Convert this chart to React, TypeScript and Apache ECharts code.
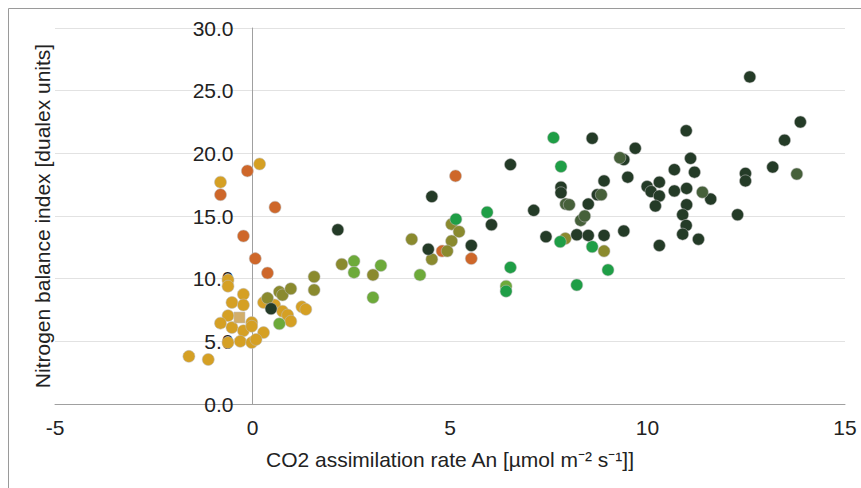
import React, { useEffect, useRef } from "react";
import * as echarts from "echarts";

const xTicks = [-5, 0, 5, 10, 15];
const yTicks = [0, 5, 10, 15, 20, 25, 30];

const orangePts: number[][] = [
  [-0.13, 18.6], [-0.81, 16.7], [0.57, 15.7], [-0.23, 13.4], [0.07, 11.6], [0.38, 10.45],
  [5.14, 18.2], [5.54, 11.6], [4.8, 12.2],
];

const yellowPts: number[][] = [
  [0.18, 19.15], [-0.81, 17.7], [-0.62, 9.9], [-0.62, 9.4], [-0.23, 8.75], [-0.52, 8.1],
  [-0.23, 7.9], [0.28, 8.1], [0.56, 7.9], [-0.62, 7.05], [-0.81, 6.45], [-0.52, 6.1],
  [-0.23, 5.85], [-0.02, 6.5], [-0.02, 6.2], [0.28, 5.7], [-0.62, 4.9], [-0.31, 5.0],
  [-0.02, 4.9], [0.09, 5.15], [-1.61, 3.8], [-1.12, 3.55], [0.76, 7.4], [0.89, 7.1],
  [0.97, 6.6], [1.25, 7.75], [1.35, 7.55],
];

const squarePts: number[][] = [[-0.33, 6.9]];

const olivePts: number[][] = [
  [0.38, 8.45], [0.68, 8.95], [0.76, 8.7], [0.97, 9.2], [1.56, 10.15], [1.56, 9.1],
  [2.26, 11.15], [3.05, 10.3], [4.03, 13.15], [4.54, 11.55], [5.04, 14.35], [5.23, 13.75],
  [5.04, 13.0], [4.93, 12.2], [7.92, 13.2], [8.9, 12.2],
];

const lightGreenPts: number[][] = [
  [0.68, 6.4], [2.57, 11.4], [2.57, 10.5], [3.25, 11.05], [3.05, 8.5], [4.24, 10.3], [6.42, 9.4],
];

const brightGreenPts: number[][] = [
  [5.15, 14.75], [5.94, 15.3], [6.53, 10.9], [6.42, 9.0], [7.62, 21.25], [7.81, 18.95],
  [7.79, 12.95], [8.6, 12.55], [8.21, 9.5], [9.0, 10.7],
];

const darkGreenPts: number[][] = [
  [0.47, 7.6], [2.16, 13.9], [4.45, 12.35], [4.54, 16.55], [5.54, 12.65], [6.05, 14.3],
  [6.53, 19.1], [7.12, 15.45], [7.43, 13.35], [8.6, 21.2], [7.81, 17.3], [7.81, 16.85],
  [8.5, 15.95], [8.21, 13.5], [8.5, 13.45], [8.9, 17.8], [8.9, 13.45], [8.73, 16.7],
  [9.4, 13.8], [9.5, 18.1], [9.4, 19.5], [9.69, 20.4], [9.99, 17.35], [10.09, 16.95],
  [10.3, 17.7], [10.3, 16.6], [10.2, 15.8], [10.3, 12.65], [10.68, 18.7], [10.68, 17.0],
  [12.59, 26.1], [13.87, 22.5], [13.47, 21.05], [13.17, 18.9], [12.48, 18.4], [12.48, 17.8],
  [12.28, 15.1], [10.98, 21.8], [11.09, 19.6], [11.19, 18.5], [10.99, 17.2], [11.6, 16.35],
  [10.99, 15.9], [10.89, 15.1], [10.98, 14.25], [10.89, 13.55], [11.29, 13.15],
];

const midGreenPts: number[][] = [
  [7.93, 15.95], [8.02, 15.9], [8.31, 14.65], [8.41, 15.0], [8.83, 16.7], [9.3, 19.65],
  [11.39, 16.9], [13.78, 18.35],
];

const FONT = "'Liberation Sans', Arial, sans-serif";
const GRID_LEFT = 55;
const GRID_RIGHT = 16;
const CHART_W = 861;

function scatter(name: string, data: number[][], color: string, symbol = "circle") {
  return {
    name,
    type: "scatter",
    data,
    symbol,
    symbolSize: symbol === "rect" ? 11 : 12,
    itemStyle: {
      color,
      opacity: 1,
      borderColor: "rgba(190,190,190,0.55)",
      borderWidth: 1,
    },
    emphasis: { disabled: true },
  };
}

export default function App() {
  const ref = useRef<HTMLDivElement>(null);
  useEffect(() => {
    if (!ref.current) return;
    const chart = echarts.init(ref.current, null, { renderer: "svg" });
    const plotW = CHART_W - GRID_LEFT - GRID_RIGHT;
    const xMin = xTicks[0];
    const xMax = xTicks[xTicks.length - 1];
    // shift the y axis (line, labels and name) to sit at x = 0
    const yAxisOffset = -((0 - xMin) / (xMax - xMin)) * plotW;
    chart.setOption({
      animation: false,
      backgroundColor: "#ffffff",
      grid: {
        left: GRID_LEFT,
        right: GRID_RIGHT,
        top: 28,
        bottom: 84,
        containLabel: false,
        outerBoundsMode: "none",
      },
      graphic: [
        {
          type: "rect",
          shape: { x: 8.5, y: 8.5, width: 900, height: 520 },
          style: { fill: "none", stroke: "#9a9a9a", lineWidth: 1 },
          silent: true,
          z: 0,
        },
      ],
      xAxis: {
        type: "value",
        min: xMin,
        max: xMax,
        interval: 5,
        name: "CO2 assimilation rate An [µmol m⁻² s⁻¹]]",
        nameLocation: "middle",
        nameGap: 45,
        nameTextStyle: { fontFamily: FONT, fontSize: 21, color: "#222" },
        axisLine: { onZero: true, lineStyle: { color: "#a0a0a0", width: 1 } },
        axisTick: { show: false },
        splitLine: { show: false },
        axisLabel: { fontFamily: FONT, fontSize: 21, color: "#222", margin: 13 },
      },
      yAxis: {
        type: "value",
        min: yTicks[0],
        max: yTicks[yTicks.length - 1],
        interval: 5,
        offset: yAxisOffset,
        name: "Nitrogen balance index [dualex units]",
        nameLocation: "middle",
        nameGap: 200,
        nameTextStyle: { fontFamily: FONT, fontSize: 21, color: "#222" },
        axisLine: { show: true, onZero: false, lineStyle: { color: "#a0a0a0", width: 1 } },
        axisTick: { show: false },
        splitLine: { show: true, lineStyle: { color: "#e2e2e2", width: 1 } },
        axisLabel: {
          fontFamily: FONT,
          fontSize: 21,
          color: "#222",
          margin: 19,
          formatter: (v: number) => v.toFixed(1),
        },
      },
      series: [
        scatter("orange", orangePts, "#CE672A"),
        scatter("yellow", yellowPts, "#D5A024"),
        scatter("square", squarePts, "#D2AE6A", "rect"),
        scatter("lightgreen", lightGreenPts, "#6DAA3A"),
        scatter("olive", olivePts, "#8A8A2E"),
        scatter("brightgreen", brightGreenPts, "#1F9E46"),
        scatter("darkgreen", darkGreenPts, "#243B27"),
        scatter("midgreen", midGreenPts, "#46603A"),
      ],
    });
    return () => chart.dispose();
  }, []);
  return (
    <div
      ref={ref}
      style={{ position: "fixed", left: 0, top: 0, width: CHART_W, height: 488 }}
    />
  );
}
